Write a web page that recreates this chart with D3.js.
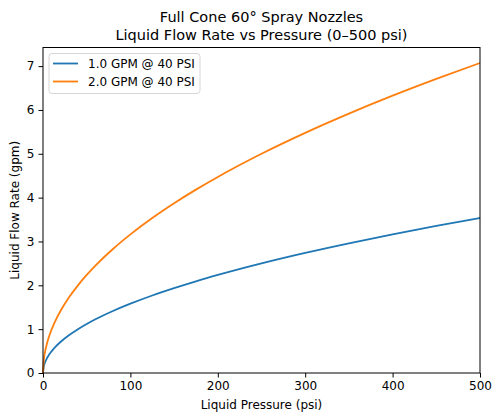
<!DOCTYPE html>
<html>
<head>
<meta charset="utf-8">
<script src="https://cdn.jsdelivr.net/npm/d3@7"></script>
<style>
  body { margin: 0; background: #fff; }
  text { font-family: "DejaVu Sans", sans-serif; fill: #000; }
</style>
</head>
<body>
<div id="chart"></div>
<script>
// values
var pressure = [0, 1, 2, 5, 10, 15, 20, 30, 40, 50, 60, 80, 100, 125, 150, 175, 200, 250, 300, 350, 400, 450, 500];
var flow1 = [0, 0.158, 0.224, 0.354, 0.5, 0.612, 0.707, 0.866, 1.0, 1.118, 1.225, 1.414, 1.581, 1.768, 1.936, 2.092, 2.236, 2.5, 2.739, 2.958, 3.162, 3.354, 3.536];
var flow2 = [0, 0.316, 0.447, 0.707, 1.0, 1.225, 1.414, 1.732, 2.0, 2.236, 2.449, 2.828, 3.162, 3.536, 3.873, 4.183, 4.472, 5.0, 5.477, 5.916, 6.325, 6.708, 7.071];
var seriesNames = ["1.0 GPM @ 40 PSI", "2.0 GPM @ 40 PSI"];
var colors = ["#1f77b4", "#ff7f0e"];
var xTicks = [0, 100, 200, 300, 400, 500];
var yTicks = [0, 1, 2, 3, 4, 5, 6, 7];

var W = 500, H = 420;
var margin = {top: 47.5, right: 20, bottom: 47, left: 43};
var width = W - margin.left - margin.right,
    height = H - margin.top - margin.bottom;

var svg = d3.select("#chart").append("svg")
  .attr("width", W).attr("height", H);

var g = svg.append("g")
  .attr("transform", "translate(" + margin.left + "," + margin.top + ")");

var x = d3.scaleLinear().domain([0, 500]).range([0, width]);
var y = d3.scaleLinear().domain([0, 7.071 * 1.05]).range([height, 0]);

// axes
var xAxis = g.append("g")
  .attr("transform", "translate(0," + height + ")")
  .call(d3.axisBottom(x).tickValues(xTicks).tickSize(4.5).tickPadding(4));
var yAxis = g.append("g")
  .call(d3.axisLeft(y).tickValues(yTicks).tickSize(4.5).tickPadding(4));
[xAxis, yAxis].forEach(function(a) {
  a.selectAll("text").style("font-size", "12px").style("font-family", "DejaVu Sans");
  a.selectAll("line").attr("stroke", "#000").attr("stroke-width", 1);
  a.select(".domain").remove();
});

// lines
var line = d3.line()
  .x(function(d) { return x(d[0]); })
  .y(function(d) { return y(d[1]); })
  .curve(d3.curveMonotoneX);

[flow1, flow2].forEach(function(vals, i) {
  g.append("path")
    .datum(pressure.map(function(p, j) { return [p, vals[j]]; }))
    .attr("fill", "none")
    .attr("stroke", colors[i])
    .attr("stroke-width", 1.8)
    .attr("d", line);
});

// frame
g.append("rect")
  .attr("width", width).attr("height", height)
  .attr("fill", "none").attr("stroke", "#000").attr("stroke-width", 1);

// legend
var leg = g.append("g").attr("transform", "translate(6,6)");
leg.append("rect")
  .attr("width", 151).attr("height", 40).attr("rx", 3)
  .attr("fill", "#fff").attr("fill-opacity", 0.8)
  .attr("stroke", "#d6d6d6");
seriesNames.forEach(function(name, i) {
  var yy = 10 + i * 18;
  leg.append("line")
    .attr("x1", 4).attr("x2", 29).attr("y1", yy).attr("y2", yy)
    .attr("stroke", colors[i]).attr("stroke-width", 1.8);
  leg.append("text")
    .attr("x", 39).attr("y", yy + 4.3)
    .style("font-size", "12px")
    .text(name);
});

// titles
var cx = margin.left + width / 2;
svg.append("text").attr("x", cx).attr("y", 21.5)
  .attr("text-anchor", "middle").style("font-size", "14.5px")
  .text("Full Cone 60° Spray Nozzles");
svg.append("text").attr("x", cx).attr("y", 39.5)
  .attr("text-anchor", "middle").style("font-size", "14.5px")
  .text("Liquid Flow Rate vs Pressure (0–500 psi)");

svg.append("text").attr("x", cx).attr("y", 409)
  .attr("text-anchor", "middle").style("font-size", "12px")
  .text("Liquid Pressure (psi)");
svg.append("text")
  .attr("transform", "translate(19," + (margin.top + height / 2) + ") rotate(-90)")
  .attr("text-anchor", "middle").style("font-size", "12px")
  .text("Liquid Flow Rate (gpm)");
</script>
</body>
</html>
